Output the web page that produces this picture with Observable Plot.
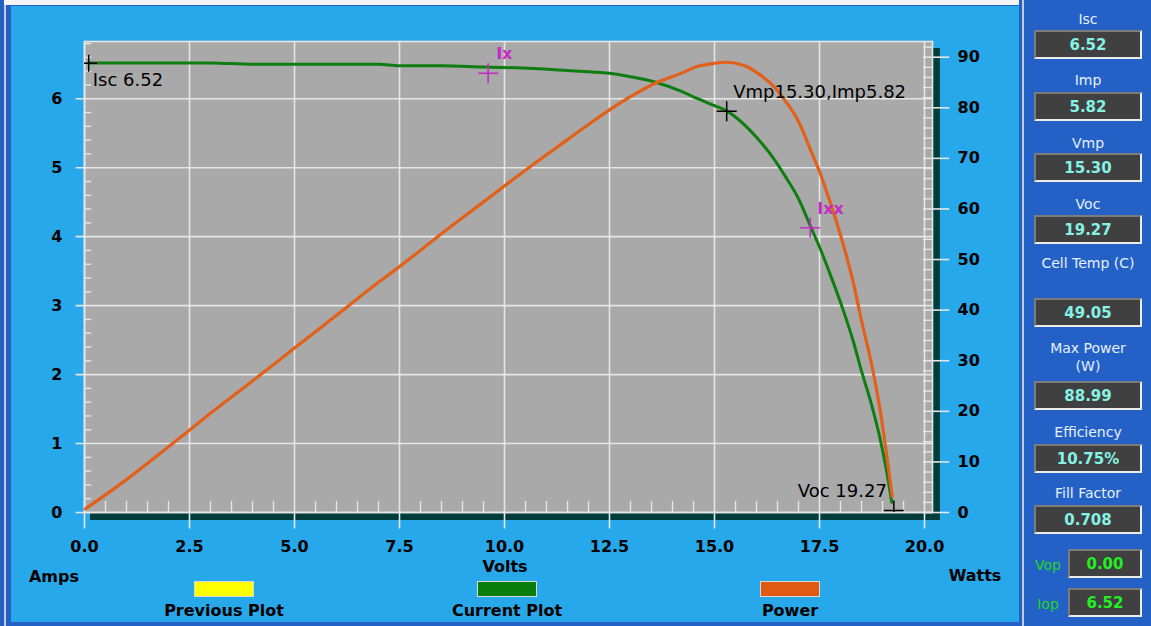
<!DOCTYPE html>
<html><head><meta charset="utf-8">
<script src="https://cdn.jsdelivr.net/npm/d3@7"></script>
<script src="https://cdn.jsdelivr.net/npm/@observablehq/plot@0.6"></script>
<style>
html,body{margin:0;padding:0;}
body{background:#2461C6;width:1151px;height:626px;overflow:hidden;font-family:"DejaVu Sans",Verdana,sans-serif;}
#root{position:relative;width:1151px;height:626px;}
.box{position:absolute;box-sizing:border-box;background:#404040;border-top:2px solid #7c7c7c;border-left:2px solid #7c7c7c;border-bottom:2px solid #ececec;border-right:2px solid #ececec;display:flex;align-items:center;justify-content:center;font-weight:bold;font-size:15px;}
</style></head><body><div id="root"></div>
<script>
// ---- data ----
const volts = [0.1, 1.0, 2.0, 3.0, 4.0, 5.0, 6.0, 7.0, 7.5, 8.5, 9.5, 10.7, 11.5, 12.0, 12.5, 13.0, 13.6, 14.2, 14.6, 15.0, 15.3, 15.55, 15.8, 16.0, 16.4, 16.7, 17.0, 17.3, 17.5, 17.75, 18.05, 18.3, 18.5, 18.75, 18.95, 19.1, 19.22];
const amps  = [6.52, 6.52, 6.52, 6.52, 6.50, 6.50, 6.50, 6.50, 6.48, 6.48, 6.46, 6.44, 6.41, 6.39, 6.37, 6.32, 6.24, 6.11, 6.00, 5.90, 5.82, 5.71, 5.57, 5.44, 5.14, 4.86, 4.55, 4.13, 3.85, 3.46, 2.96, 2.49, 2.05, 1.54, 1.05, 0.59, 0.15];
const powerVolts = [0.02, 1.0, 2.0, 3.0, 4.0, 5.0, 6.0, 7.0, 7.5, 8.5, 9.5, 10.7, 11.5, 12.0, 12.5, 13.0, 13.6, 14.2, 14.6, 15.0, 15.3, 15.55, 15.8, 16.0, 16.4, 16.7, 17.0, 17.3, 17.5, 17.75, 18.05, 18.3, 18.5, 18.75, 18.95, 19.1, 19.23];
const watts = [0.7, 6.5, 13.0, 19.6, 26.0, 32.5, 39.0, 45.5, 48.6, 55.1, 61.4, 68.9, 73.7, 76.7, 79.6, 82.2, 84.9, 86.8, 88.2, 88.8, 89.0, 88.7, 88.0, 87.0, 84.3, 81.2, 77.3, 71.4, 67.4, 61.4, 53.4, 45.6, 37.9, 28.9, 19.9, 11.3, 3.2];

const voltTicks = [0, 2.5, 5, 7.5, 10, 12.5, 15, 17.5, 20];
const ampTicks = [0, 1, 2, 3, 4, 5, 6];
const wattTicks = [0, 10, 20, 30, 40, 50, 60, 70, 80, 90];
const voltMax = 20.19, ampMax = 6.83, wattMax = 93.1;

const markerLabels = ["Isc 6.52", "Ix", "Vmp15.30,Imp5.82", "Ixx", "Voc 19.27"];
const markerVolts = [0.1, 9.61, 15.29, 17.28, 19.27];
const markerAmps = [6.515, 6.37, 5.82, 4.13, 0.03];

const legendLabels = ["Previous Plot", "Current Plot", "Power"];
const panelLabels = ["Isc", "Imp", "Vmp", "Voc", "Cell Temp (C)", "Max Power|(W)", "Efficiency", "Fill Factor"];
const panelValues = ["6.52", "5.82", "15.30", "19.27", "49.05", "88.99", "10.75%", "0.708"];
const opLabels = ["Vop", "Iop"];
const opValues = ["0.00", "6.52"];

// ---- helpers ----
const root = document.getElementById("root");
function div(css, text) {
  const d = document.createElement("div");
  d.style.cssText = css;
  if (text !== undefined) d.textContent = text;
  root.appendChild(d);
  return d;
}
function textAt(str, x, baseline, size, opts = {}) {
  const anchor = opts.anchor || "middle";
  const d = div(`position:absolute;white-space:nowrap;font-size:${size}px;line-height:${size}px;top:${baseline - 0.846 * size}px;color:${opts.color || "#000"};font-weight:${opts.weight || "normal"};`, str);
  if (anchor === "middle") { d.style.left = x + "px"; d.style.transform = "translateX(-50%)"; }
  else if (anchor === "start") d.style.left = x + "px";
  else { d.style.right = (1151 - x) + "px"; }
  return d;
}

// ---- background panels ----
div("position:absolute;left:4px;top:0;width:1015px;height:5px;background:#f4f4fa;");
div("position:absolute;left:4px;top:5px;width:2px;height:621px;background:#c9ccd6;");
div("position:absolute;left:11px;top:6px;width:1008px;height:616px;background:#27A8EA;");
div("position:absolute;left:1022px;top:0;width:2px;height:626px;background:#c3cad8;");
// shadow of plot area
div("position:absolute;left:90px;top:48px;width:850px;height:472px;background:#013D3D;");

// ---- chart ----
const k = wattMax / ampMax;
const current = volts.map((v, j) => ({v, i: amps[j]}));
const power = powerVolts.map((v, j) => ({v, p: watts[j]}));
const ann = markerLabels.map((label, j) => ({label, v: markerVolts[j], i: markerAmps[j]}));
const minorVolts = d3.range(0, 20.01, 0.5).filter(v => !voltTicks.includes(v));
const minorAmps = d3.range(0.2, ampMax, 0.2).filter(a => Math.abs(a - Math.round(a)) > 1e-6);
const minorWatts = d3.range(2, wattMax, 2).filter(w => w % 10 !== 0);

const cross = {draw(ctx, size) { const r = Math.sqrt(size / Math.PI); ctx.moveTo(-r, 0); ctx.lineTo(r, 0); ctx.moveTo(0, -r); ctx.lineTo(0, r); }};
const grid = "#E6E6E6";
const magenta = "#C52BC5";

const chart = Plot.plot({
  width: 1018, height: 560,
  marginLeft: 84, marginRight: 86, marginTop: 41, marginBottom: 48,
  x: {domain: [0, voltMax], label: null},
  y: {domain: [0, ampMax], label: null},
  style: {background: "transparent", fontFamily: "DejaVu Sans, Verdana, sans-serif", fontSize: "16px", fontWeight: "bold", color: "#000", overflow: "visible"},
  marks: [
    Plot.frame({fill: "#A9A9A9"}),
    Plot.ruleX(voltTicks, {x: d => d, y1: -0.24, y2: ampMax, stroke: grid, strokeWidth: 1.6}),
    Plot.ruleY(ampTicks, {y: d => d, x1: -0.2, x2: voltMax, stroke: grid, strokeWidth: 1.6}),
    Plot.ruleX(minorVolts, {x: d => d, y1: 0, y2: 0.16, stroke: grid, strokeWidth: 1.4}),
    Plot.ruleY(minorAmps, {y: d => d, x1: 0, x2: 0.17, stroke: grid, strokeWidth: 1.4}),
    Plot.ruleY(minorWatts, {y: d => d / k, x1: 19.975, x2: voltMax, stroke: grid, strokeWidth: 1.4}),
    Plot.ruleY(wattTicks, {y: d => d / k, x1: 19.975, x2: 20.6, stroke: grid, strokeWidth: 1.6}),
    Plot.frame({stroke: grid, strokeWidth: 1.6}),
    Plot.axisX(voltTicks, {tickSize: 0, tickPadding: 28, tickFormat: d => d.toFixed(1), fontWeight: "bold"}),
    Plot.axisY(ampTicks, {anchor: "left", tickSize: 0, tickPadding: 22, tickFormat: d => String(d), fontWeight: "bold"}),
    Plot.axisY(wattTicks.map(w => w / k), {anchor: "right", tickSize: 0, tickPadding: 25, tickFormat: d => String(Math.round(d * k)), fontWeight: "bold"}),
    Plot.line(current, {x: "v", y: "i", stroke: "#0E7E12", strokeWidth: 3, curve: "monotone-x"}),
    Plot.line(power, {x: "v", y: d => d.p / k, stroke: "#E2601A", strokeWidth: 3.2, curve: "monotone-x"}),
    Plot.dot(ann.filter((d, j) => j === 1 || j === 3), {x: "v", y: "i", symbol: cross, r: 10, stroke: magenta, strokeWidth: 1.6, fill: "none", clip: true}),
    Plot.dot(ann.filter((d, j) => j === 2 || j === 4), {x: "v", y: "i", symbol: cross, r: 10, stroke: "#000", strokeWidth: 1.5, fill: "none", clip: true}),
    Plot.dot([ann[0]], {x: "v", y: "i", symbol: cross, r: 8.5, stroke: "#000", strokeWidth: 1.5, fill: "none", clip: true}),
    Plot.text([ann[0]], {x: "v", y: "i", text: "label", textAnchor: "start", dx: 4, dy: 17.5, fontSize: 18, fontWeight: "normal", fill: "#000"}),
    Plot.text([ann[1]], {x: "v", y: "i", text: "label", textAnchor: "start", dx: 8, dy: -19, fontSize: 16, fontWeight: "bold", fill: magenta}),
    Plot.text([ann[2]], {x: "v", y: "i", text: "label", textAnchor: "start", dx: 6.5, dy: -18.5, fontSize: 18, fontWeight: "normal", fill: "#000"}),
    Plot.text([ann[3]], {x: "v", y: "i", text: "label", textAnchor: "start", dx: 7, dy: -19, fontSize: 16, fontWeight: "bold", fill: magenta}),
    Plot.text([ann[4]], {x: "v", y: "i", text: "label", textAnchor: "end", dx: -7, dy: -19, fontSize: 18, fontWeight: "normal", fill: "#000"})
  ]
});
chart.style.position = "absolute";
chart.style.left = "0px";
chart.style.top = "0px";
root.appendChild(chart);

// ---- axis titles and legend ----
textAt("Volts", 505, 573, 16, {weight: "bold"});
textAt("Amps", 54, 583, 16, {weight: "bold"});
textAt("Watts", 975, 582, 16, {weight: "bold"});
const legendColors = ["#FFFF00", "#0B7D0B", "#E05A14"];
const legendX = [224, 507, 790];
legendLabels.forEach((lab, j) => {
  div(`position:absolute;left:${legendX[j] - 30}px;top:581px;width:60px;height:16px;box-sizing:border-box;border:1px solid #d8d8d8;background:${legendColors[j]};`);
  textAt(lab, legendX[j], 617, 16, {weight: "bold"});
});

// ---- right panel ----
const labelBase = [24, 85, 148, 209, 268, 353, 437, 498];
const boxTop = [30, 92, 153, 215, 298, 381, 444, 505];
const labColor = "#E6EFFF";
panelLabels.forEach((lab, j) => {
  const parts = lab.split("|");
  parts.forEach((p, q) => textAt(p, 1088, labelBase[j] + q * 18, 14, {color: labColor}));
  const b = div(`left:1034px;top:${boxTop[j]}px;width:108px;height:29px;color:#86F2E4;`, panelValues[j]);
  b.className = "box";
});
const opBase = [570, 609];
const opTop = [549, 588];
opLabels.forEach((lab, j) => {
  textAt(lab, 1048, opBase[j], 14, {color: "#22D822"});
  const b = div(`left:1068px;top:${opTop[j]}px;width:74px;height:29px;color:#22F022;`, opValues[j]);
  b.className = "box";
});
</script></body></html>
